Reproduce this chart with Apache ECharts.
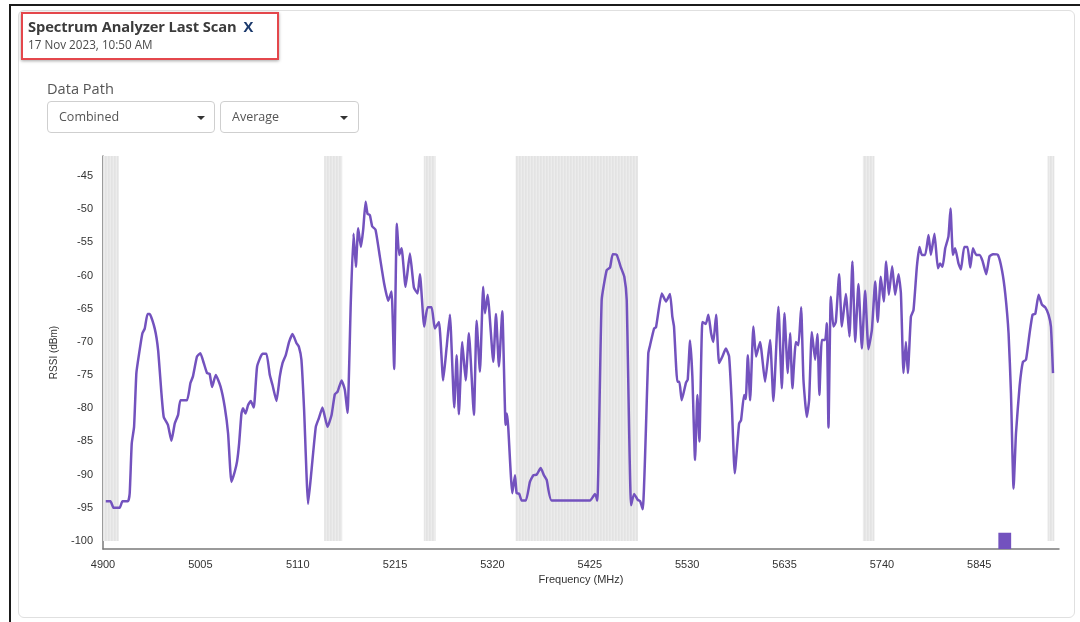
<!DOCTYPE html>
<html>
<head>
<meta charset="utf-8">
<title>Spectrum Analyzer Last Scan</title>
<script src="https://cdn.jsdelivr.net/npm/echarts@6/dist/echarts.min.js"></script>
<style>
  html, body { margin: 0; padding: 0; width: 1080px; height: 622px; overflow: hidden; background: #fff; }
  body { position: relative; font-family: "Open Sans", Lato, "Liberation Sans", sans-serif; }
  #frame { position: absolute; left: 9px; top: 4px; right: 0; bottom: 0; border-left: 2px solid #1b1b1b; border-top: 2px solid #1b1b1b; }
  #card { position: absolute; left: 18px; top: 10px; width: 1055px; height: 606px; border: 1px solid #e0e0e0; border-radius: 6px; background: #fff; }
  #chart { position: absolute; left: 0; top: 0; width: 1080px; height: 622px; }
  .hl { position: absolute; left: 21px; top: 12px; width: 254px; height: 44px; border: 2px solid #e4474c; box-shadow: 0 1px 3px rgba(0,0,0,0.35); }
  .title { position: absolute; left: 28px; top: 16px; font-size: 14.7px; font-weight: 700; color: #3b3b3b; white-space: nowrap; letter-spacing: -0.1px; }
  .title .x { color: #1c3a6c; margin-left: 7px; }
  .sub { position: absolute; left: 28px; top: 36px; font-size: 11.7px; color: #4a4a4a; white-space: nowrap; }
  .lbl { position: absolute; left: 47px; top: 78px; font-size: 14.6px; color: #555; white-space: nowrap; }
  .dd { position: absolute; top: 101px; height: 32px; border: 1px solid #cfcfcf; border-radius: 4px; background: #fff; box-sizing: border-box; }
  .dd span { position: absolute; left: 11px; top: 6px; font-size: 12.5px; color: #555; }
  .dd i { position: absolute; top: 14px; width: 0; height: 0; border-left: 4.5px solid transparent; border-right: 4.5px solid transparent; border-top: 4.5px solid #333; }
</style>
</head>
<body>
<div id="frame"></div>
<div id="card"></div>
<div id="chart"></div>
<div class="hl"></div>
<div class="title">Spectrum Analyzer Last Scan<span class="x">X</span></div>
<div class="sub">17 Nov 2023, 10:50 AM</div>
<div class="lbl">Data Path</div>
<div class="dd" style="left:47px;width:168px;"><span>Combined</span><i style="left:149px;"></i></div>
<div class="dd" style="left:220px;width:139px;"><span>Average</span><i style="left:119px;"></i></div>
<script>
// Scan frequencies (MHz)
const freqs = [
  4903, 4908, 4911.5, 4918, 4921, 4927, 4928.8, 4931, 4933.5, 4936, 4939, 4942.5, 4945, 4948, 4950.4,
  4955.8, 4959.4, 4963, 4965.5, 4970, 4973.8, 4977.4, 4981, 4983.5, 4990.6, 4994.3, 4997, 5001.4, 5005,
  5008.7, 5012.2, 5015, 5017.6, 5021.6, 5026.7, 5031.3, 5034.9, 5038.5, 5042, 5044.6, 5046.8, 5049.3,
  5051, 5053.7, 5056.5, 5059.4, 5062.6, 5066.2, 5072, 5076.3, 5079.9, 5082.8, 5087.1, 5090.7, 5093.6,
  5097.1, 5100.7, 5104.4, 5108.7, 5111.2, 5114, 5116.9, 5121.2, 5124.9, 5129.5, 5132.8, 5136.7, 5142.1,
  5146.5, 5150, 5153, 5157.3, 5160.8, 5163.7, 5167.3, 5170.2, 5172.7, 5175.2, 5178.1, 5180.6, 5183.2,
  5185.3, 5187.8, 5190.3, 5193.9, 5198.6, 5203.2, 5207.6, 5211.2, 5214, 5216.9, 5219.4, 5222, 5226.3,
  5231, 5235.3, 5239.3, 5241.8, 5246.4, 5250, 5254.4, 5257.9, 5262.3, 5266.9, 5270.6, 5274.1, 5278.8,
  5281.4, 5283.8, 5287.4, 5291.1, 5294.6, 5300, 5302.9, 5306.5, 5310, 5311.9, 5314.8, 5320.9, 5323.8,
  5327, 5330.6, 5334.2, 5335.6, 5337, 5341.4, 5344.3, 5346.1, 5348.9, 5351.5, 5356.1, 5360.4, 5364,
  5367.7, 5372, 5375.6, 5378.5, 5383.9, 5425.2, 5430.6, 5433.1, 5437.8, 5443.2, 5446.8, 5449.7, 5454,
  5458.3, 5462.2, 5464.8, 5469.5, 5472.7, 5476.7, 5479.2, 5482.1, 5488.1, 5490, 5494.3, 5496.4, 5502.6,
  5507.2, 5511.5, 5514, 5515.8, 5519.4, 5521.6, 5524.1, 5528.8, 5530.6, 5533.1, 5535.6, 5538.5, 5541,
  5543.2, 5546.4, 5550.1, 5552.9, 5555.8, 5558.3, 5561.2, 5564.4, 5568, 5571.7, 5575.2, 5578.1, 5581.3,
  5586, 5588.1, 5591.4, 5593.2, 5595.4, 5597.9, 5601.4, 5604.3, 5608.6, 5614, 5619.4, 5623, 5628.4,
  5632.1, 5634.9, 5638.5, 5641, 5643.5, 5647.2, 5650, 5652.9, 5655.4, 5659, 5661.5, 5664.4, 5668,
  5670.5, 5672.6, 5675.2, 5678.8, 5680.6, 5682.4, 5684.9, 5687.7, 5690.3, 5693.9, 5696.8, 5701.1, 5705,
  5708.2, 5711.2, 5714.7, 5718.4, 5721.9, 5725.5, 5729.2, 5732.8, 5735.5, 5738.8, 5742, 5744.6, 5747.5,
  5751.1, 5754.3, 5757.9, 5760.5, 5763.3, 5765.9, 5768, 5771.3, 5774.1, 5777.7, 5780.5, 5783.1, 5786.7,
  5790.3, 5792.8, 5796.7, 5800.4, 5802.8, 5805.4, 5808.3, 5811.8, 5814, 5816.6, 5819, 5822.6, 5825.2,
  5828.8, 5832.3, 5835.3, 5838.2, 5841.7, 5845.3, 5848.5, 5852.5, 5856.1, 5859.8, 5865.1, 5869.5, 5873,
  5876.6, 5879.2, 5882, 5884.6, 5888.5, 5892.1, 5895.4, 5899.3, 5902.5, 5905.4, 5909, 5912.6, 5916.2,
  5919.7, 5922.3, 5924.5
];

// Average RSSI (dBm) at each scan frequency
const rssi = [
  -94, -94, -95, -95, -94, -94, -92.8, -85.3, -82.8, -74.7, -71.7, -68.7, -68, -65.8, -65.8,
  -68, -71.2, -77.7, -81.3, -82.5, -84.9, -82.3, -81, -78.8, -78.8, -76.2, -75.2, -72.2, -71.7,
  -73.2, -74.7, -74.8, -76.8, -75, -76.7, -79.8, -83.8, -91.1, -89.6, -88, -85.3, -80.8,
  -80, -80.8, -79.5, -78.9, -79.9, -73.7, -71.8, -71.8, -75, -76.5, -78.9, -75.2, -73.2,
  -72, -70, -68.8, -70.2, -70.7, -72.7, -80.3, -94.4, -89.3, -82.8, -81.5, -79.9, -82.8,
  -81, -77.9, -77.5, -75.8, -77.2, -80.7, -63.7, -53.7, -58.7, -52.9, -55.7, -53.1, -48.9,
  -50.7, -50.9, -52.6, -53.1, -57.2, -61.2, -63.8, -62.4, -74.1, -52.2, -56.9, -55.9, -61.7,
  -56.7, -61.8, -62.7, -59.8, -67.7, -64.8, -64.8, -68, -67, -75.8, -70.8, -65.9, -79.9,
  -72, -80.9, -70, -75.8, -68.7, -81, -66.8, -74.5, -61.7, -65.7, -62.9, -73, -65.8,
  -73.7, -65.4, -82.5, -80.8, -82.8, -92.8, -90.1, -92.8, -92.9, -93.9, -93.9, -91.1, -90.1,
  -90, -89, -90.1, -90.8, -93.9, -93.9, -92.9, -93.9, -63.7, -59.2, -58.8, -56.8, -56.9,
  -58.7, -60.2, -63.7, -94.6, -92.9, -93.8, -94, -95.2, -71.7, -70.5, -68, -67.8, -62.7,
  -63.9, -62.8, -66.2, -67.7, -76, -76, -78.8, -76.1, -75.7, -69.8, -75.2, -87.8, -78,
  -85, -67, -67.3, -65.9, -68.7, -70, -65.9, -73.2, -72.2, -71, -72.2, -79.3, -89.8,
  -82.3, -81.8, -78, -78.6, -72, -78.8, -67.7, -72.2, -70, -76, -69.7, -78.9, -64.7,
  -77, -65.7, -74.7, -68.7, -77, -70, -70.5, -64.8, -75.7, -81.3, -78.8, -68.5, -72.7,
  -68.8, -78, -69.7, -69.7, -67.2, -82.9, -63.2, -67.7, -67, -59.8, -67.7, -62.8, -69.2,
  -57.9, -70, -61.3, -71, -62.3, -71.1, -68.2, -60.9, -67, -60.2, -63.9, -57.9, -62.9,
  -58.6, -62.9, -59.8, -62.7, -74.7, -70, -74.7, -66.2, -65.2, -58.7, -55.7, -56.9, -56.9,
  -53.9, -56.9, -53.7, -58.9, -58.2, -58.7, -55.9, -54.1, -49.9, -56.9, -55.9, -58.2, -59.1,
  -55.7, -55.7, -58.8, -55.9, -56.9, -56.9, -57.8, -59.8, -57.1, -56.8, -56.9, -59.2, -62.7,
  -68.7, -77.7, -92.1, -83.8, -76.7, -73, -72.7, -68.7, -65.9, -65.8, -62.9, -64.4, -64.8,
  -65.9, -67.7, -74.7
];

// Shaded (excluded) frequency ranges: start MHz, end MHz
const bandStart = [4900, 5138.5, 5246, 5345, 5719.5, 5918.7];
const bandEnd   = [4917, 5158, 5258.7, 5477, 5732, 5926];

// Current channel marker: start MHz, end MHz, top level (dBm)
const markerStart = [5865.6];
const markerEnd   = [5879.4];
const markerTop   = [-98.75];

// Axis ticks
const xTicks = [4900, 5005, 5110, 5215, 5320, 5425, 5530, 5635, 5740, 5845];
const yTicks = [-100, -95, -90, -85, -80, -75, -70, -65, -60, -55, -50, -45];

const X_MIN = 4900, X_MAX = 5931;
const Y_MIN = -101.2, Y_MAX = -42, BAND_FLOOR = -100;

// Soft striped fill for the shaded ranges
const tile = document.createElement('canvas');
tile.width = 3; tile.height = 4;
(function () {
  const c = tile.getContext('2d');
  const cols = ['#e3e3e3', '#e6e6e6', '#ececec'];
  cols.forEach((col, i) => { c.fillStyle = col; c.fillRect(i, 0, 1, 4); });
})();
const stripe = { image: tile, repeat: 'repeat' };

const chart = echarts.init(document.getElementById('chart'), null, { renderer: 'canvas' });

function rangeRect(api) {
  const a = api.coord([api.value(0), api.value(3)]);
  const b = api.coord([api.value(1), api.value(2)]);
  return { x: a[0], y: a[1], width: b[0] - a[0], height: b[1] - a[1] };
}

const labelFont = { fontFamily: 'Liberation Sans, Arial, sans-serif', fontSize: 11, color: '#333' };

chart.setOption({
  animation: false,
  grid: { left: 103, right: 21, top: 156, bottom: 73, containLabel: false },
  xAxis: {
    type: 'value',
    min: X_MIN, max: X_MAX, interval: 105,
    name: 'Frequency (MHz)', nameLocation: 'middle', nameGap: 23,
    nameTextStyle: labelFont,
    axisLine: { show: true, onZero: false, lineStyle: { color: '#7a7a7a', width: 1.5 } },
    axisTick: { show: false },
    splitLine: { show: false },
    axisLabel: Object.assign({ customValues: xTicks, margin: 10, formatter: v => String(v) }, labelFont)
  },
  yAxis: {
    type: 'value',
    min: Y_MIN, max: Y_MAX,
    name: 'RSSI (dBm)', nameLocation: 'middle', nameGap: 44, nameRotate: 90,
    nameTextStyle: Object.assign({}, labelFont, { fontSize: 10 }),
    axisLine: { show: true, onZero: false, lineStyle: { color: '#7a7a7a', width: 1.5 } },
    axisTick: { show: false },
    splitLine: { show: false },
    axisLabel: Object.assign({ customValues: yTicks, margin: 10, formatter: v => String(v) }, labelFont)
  },
  series: [
    {
      type: 'custom',
      silent: true,
      z: 1,
      encode: { x: [0, 1], y: [2, 3] },
      data: bandStart.map((s, i) => [s, bandEnd[i], BAND_FLOOR, Y_MAX]),
      renderItem: (params, api) => ({ type: 'rect', shape: rangeRect(api), style: { fill: stripe } })
    },
    {
      type: 'custom',
      silent: true,
      z: 3,
      encode: { x: [0, 1], y: [2, 3] },
      data: markerStart.map((s, i) => [s, markerEnd[i], Y_MIN, markerTop[i]]),
      renderItem: (params, api) => ({ type: 'rect', shape: rangeRect(api), style: { fill: '#7352be' } })
    },
    {
      type: 'line',
      z: 2,
      showSymbol: false,
      smooth: 0.15,
      lineStyle: { color: '#7352be', width: 2.5 },
      data: freqs.map((f, i) => [f, rssi[i]])
    }
  ]
});
</script>
</body>
</html>
